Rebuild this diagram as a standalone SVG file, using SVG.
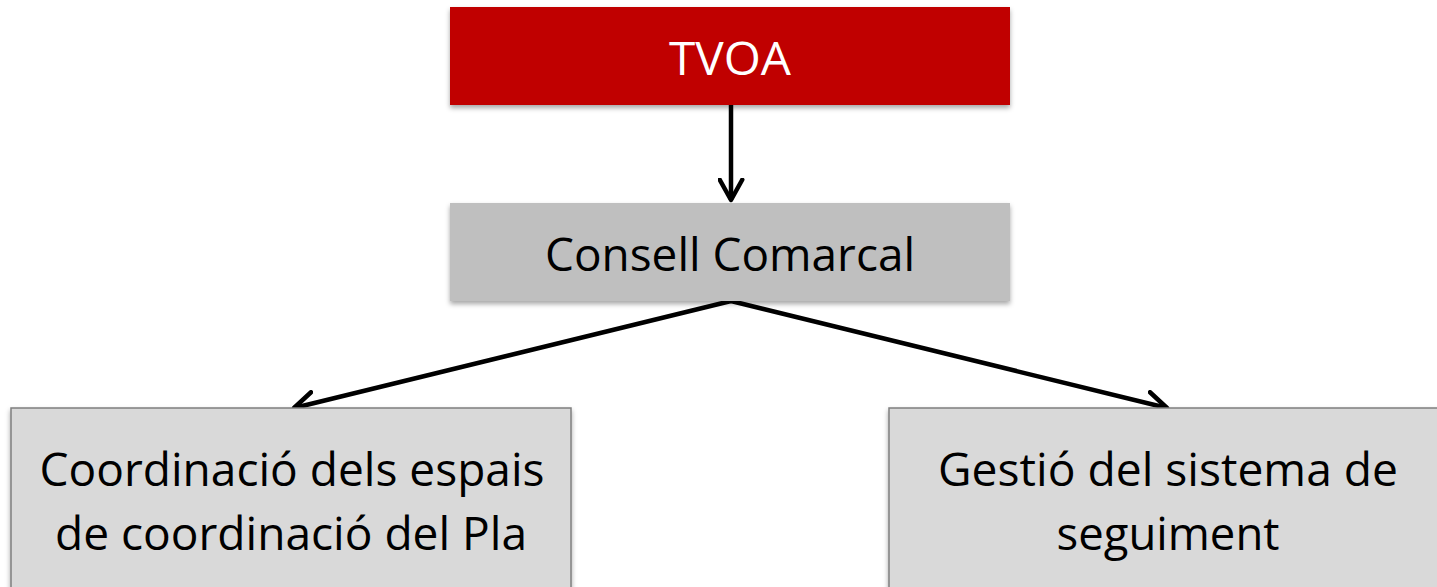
<svg xmlns="http://www.w3.org/2000/svg" width="1437" height="587" viewBox="0 0 1437 587">
<defs>
<style>
.t{font-family:"Open Sans","Noto Sans","Liberation Sans",sans-serif;font-size:46px;text-anchor:middle;fill:#000}
.w{fill:#fff}
.c{stroke:#000;stroke-width:4.5;fill:none}
</style>
<filter id="sh" x="-5%" y="-10%" width="110%" height="130%">
<feDropShadow dx="0" dy="3" stdDeviation="2.5" flood-color="#000" flood-opacity="0.35"/>
</filter>
<marker id="ah" viewBox="0 0 12 12" refX="10" refY="6" markerWidth="6" markerHeight="6" orient="auto" markerUnits="strokeWidth">
<path d="M1,1 L10,6 L1,11" fill="none" stroke="#000" stroke-width="2" stroke-linecap="round" stroke-linejoin="round"/>
</marker>
</defs>
<rect width="1437" height="587" fill="#fff"/>
<g id="connectors">
<line class="c" x1="731" y1="105" x2="731" y2="200" marker-end="url(#ah)"/>
<line class="c" x1="731" y1="301" x2="294" y2="408" marker-end="url(#ah)"/>
<line class="c" x1="731" y1="301" x2="1167" y2="408" marker-end="url(#ah)"/>
</g>
<g id="tvoa">
<rect x="450" y="7" width="560" height="98" fill="#C00000" filter="url(#sh)"/>
<text class="t w" x="730" y="75" textLength="122" lengthAdjust="spacingAndGlyphs">TVOA</text>
</g>
<g id="consell">
<rect x="450" y="203" width="560" height="98" fill="#BFBFBF" filter="url(#sh)"/>
<text class="t" x="730" y="271" textLength="370" lengthAdjust="spacingAndGlyphs">Consell Comarcal</text>
</g>
<g id="coordinacio">
<rect x="11" y="408" width="560" height="190" fill="#D9D9D9" stroke="#7F7F7F" stroke-width="1.5" filter="url(#sh)"/>
<text class="t" x="292" y="486" textLength="505" lengthAdjust="spacingAndGlyphs">Coordinació dels espais</text>
<text class="t" x="291" y="550" textLength="472" lengthAdjust="spacingAndGlyphs">de coordinació del Pla</text>
</g>
<g id="gestio">
<rect x="889" y="408" width="560" height="190" fill="#D9D9D9" stroke="#7F7F7F" stroke-width="1.5" filter="url(#sh)"/>
<text class="t" x="1168" y="486" textLength="460" lengthAdjust="spacingAndGlyphs">Gestió del sistema de</text>
<text class="t" x="1168" y="550" textLength="223" lengthAdjust="spacingAndGlyphs">seguiment</text>
</g>
</svg>
